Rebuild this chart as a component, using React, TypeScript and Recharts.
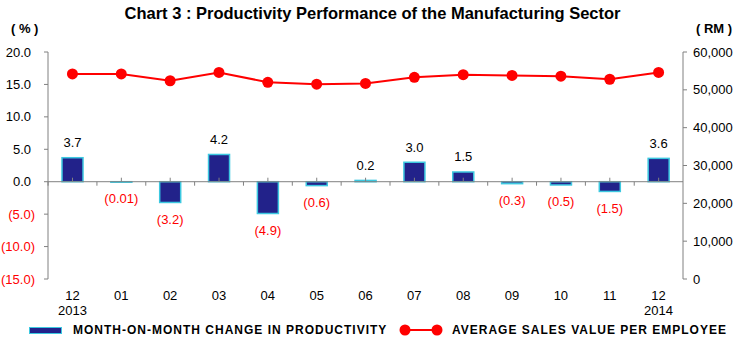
import React from "react";
import {
  Bar,
  ComposedChart,
  LabelList,
  Line,
  ReferenceLine,
  XAxis,
  YAxis,
} from "recharts";

const months = ["12", "01", "02", "03", "04", "05", "06", "07", "08", "09", "10", "11", "12"];
const years = ["2013", "", "", "", "", "", "", "", "", "", "", "", "2014"];
const productivityChange = [3.7, -0.01, -3.2, 4.2, -4.9, -0.6, 0.2, 3.0, 1.5, -0.3, -0.5, -1.5, 3.6];
const avgSalesPerEmployee = [54200, 54200, 52400, 54600, 52000, 51500, 51700, 53300, 54000, 53800, 53600, 52800, 54600];
const pctTicks = [-15, -10, -5, 0, 5, 10, 15, 20];
const rmTicks = [0, 10000, 20000, 30000, 40000, 50000, 60000];

const rows = months.map((m, i) => ({
  key: `${m}-${i}`,
  month: m,
  year: years[i],
  change: productivityChange[i],
  sales: avgSalesPerEmployee[i],
}));

const W = 745;
const H = 345;
const LEFT_W = 48;
const RIGHT_W = 62;
const BAND = (W - LEFT_W - RIGHT_W) / rows.length;
const FONT = "'Liberation Sans', Arial, sans-serif";
const GRAY = "#808080";

const fmtPct = (v: number) => {
  const s = Math.abs(v).toFixed(Math.abs(v) > 0 && Math.abs(v) < 0.1 ? 2 : 1);
  return v < 0 ? `(${s})` : s;
};

function PctTick({ x, y, payload }: any) {
  const v = payload.value as number;
  return (
    <text x={v < 0 ? x : x - 4} y={y} dy={4.5} textAnchor="end" fontSize={13} fontFamily={FONT} fill={v < 0 ? "#FF0000" : "#000"}>
      {fmtPct(v)}
    </text>
  );
}

function RmTick({ x, y, payload }: any) {
  return (
    <text x={x} y={y} dy={4.5} textAnchor="start" fontSize={13} fontFamily={FONT} fill="#000">
      {Number(payload.value).toLocaleString("en-US")}
    </text>
  );
}

function MonthTick({ x, y, index }: any) {
  const row = rows[index];
  return (
    <text x={x} y={y} textAnchor="middle" fontSize={13} fontFamily={FONT} fill="#000">
      <tspan x={x} dy={20.5}>{row?.month}</tspan>
      {row?.year ? <tspan x={x} dy={15}>{row.year}</tspan> : null}
    </text>
  );
}

function BarShape(props: any) {
  const { x, y, width, height, change } = props;
  const top = Math.min(y, y + height);
  const h = Math.abs(height);
  const zeroY = change >= 0 ? Math.max(y, y + height) : top;
  const cx = x + width / 2;
  return (
    <g>
      <rect x={x} y={top} width={width} height={Math.max(h, 0.5)} fill="#22228A" stroke="#3CC8E0" strokeWidth={1.5} />
      <line x1={cx} x2={cx} y1={zeroY} y2={zeroY - 4} stroke={GRAY} strokeWidth={1} />
      <line x1={cx - BAND / 2} x2={cx - BAND / 2} y1={zeroY} y2={zeroY + 4} stroke={GRAY} strokeWidth={1} />
    </g>
  );
}

function BarLabel({ x, y, width, height, value }: any) {
  const v = value as number;
  const top = Math.min(y, y + height);
  const bottom = Math.max(y, y + height);
  return (
    <text
      x={x + width / 2}
      y={v >= 0 ? top - 15 : bottom + 17}
      dominantBaseline="central"
      textAnchor="middle"
      fontSize={13}
      fontFamily={FONT}
      fill={v >= 0 ? "#000" : "#FF0000"}
    >
      {fmtPct(v)}
    </text>
  );
}

export default function App() {
  return (
    <div style={{ position: "absolute", left: 0, top: 0, width: W, height: H, background: "#fff", fontFamily: FONT }}>
      <div style={{ position: "absolute", left: 0, top: 4, width: W, textAlign: "center", fontSize: 16.5, fontWeight: "bold" }}>
        Chart 3 : Productivity Performance of the Manufacturing Sector
      </div>
      <div style={{ position: "absolute", left: 11, top: 21, fontSize: 13, fontWeight: "bold" }}>( % )</div>
      <div style={{ position: "absolute", left: 696, top: 21, fontSize: 13, fontWeight: "bold" }}>( RM )</div>
      <ComposedChart
        width={W}
        height={H}
        data={rows}
        margin={{ top: 52, right: 0, bottom: 26, left: 0 }}
        barCategoryGap={14}
        accessibilityLayer={false}
      >
        <XAxis dataKey="key" height={40} tickLine={false} axisLine={false} tickSize={0} tickMargin={0} tick={<MonthTick />} interval={0} />
        <YAxis
          yAxisId="left"
          width={LEFT_W}
          domain={[-15, 20]}
          ticks={pctTicks}
          interval={0}
          tickSize={4}
          tickMargin={9}
          axisLine={{ stroke: GRAY }}
          tickLine={{ stroke: GRAY }}
          tick={<PctTick />}
        />
        <YAxis
          yAxisId="right"
          orientation="right"
          width={RIGHT_W}
          domain={[0, 60000]}
          ticks={rmTicks}
          interval={0}
          tickSize={4}
          tickMargin={6}
          axisLine={{ stroke: GRAY }}
          tickLine={{ stroke: GRAY }}
          tick={<RmTick />}
        />
        <ReferenceLine yAxisId="left" y={0} stroke={GRAY} strokeWidth={1} />
        <Bar yAxisId="left" dataKey="change" shape={<BarShape />} isAnimationActive={false}>
          <LabelList dataKey="change" content={<BarLabel />} />
        </Bar>
        <Line
          yAxisId="right"
          dataKey="sales"
          stroke="#FF0000"
          strokeWidth={2}
          dot={{ r: 5.5, fill: "#FF0000", stroke: "#FF0000", strokeWidth: 0 }}
          activeDot={false}
          isAnimationActive={false}
        />
      </ComposedChart>
      <div style={{ position: "absolute", left: 29, top: 327, width: 31, height: 5, background: "#22228A", border: "1px solid #3CC8E0" }} />
      <div style={{ position: "absolute", left: 73, top: 322, fontSize: 12, fontWeight: "bold", letterSpacing: 1, lineHeight: "16px" }}>
        MONTH-ON-MONTH CHANGE IN PRODUCTIVITY
      </div>
      <svg style={{ position: "absolute", left: 398, top: 323 }} width={46} height={14}>
        <line x1={7} x2={39} y1={7} y2={7} stroke="#FF0000" strokeWidth={2} />
        <circle cx={7} cy={7} r={5.5} fill="#FF0000" />
        <circle cx={39} cy={7} r={5.5} fill="#FF0000" />
      </svg>
      <div style={{ position: "absolute", left: 452, top: 322, fontSize: 12, fontWeight: "bold", letterSpacing: 1, lineHeight: "16px" }}>
        AVERAGE SALES VALUE PER EMPLOYEE
      </div>
    </div>
  );
}
